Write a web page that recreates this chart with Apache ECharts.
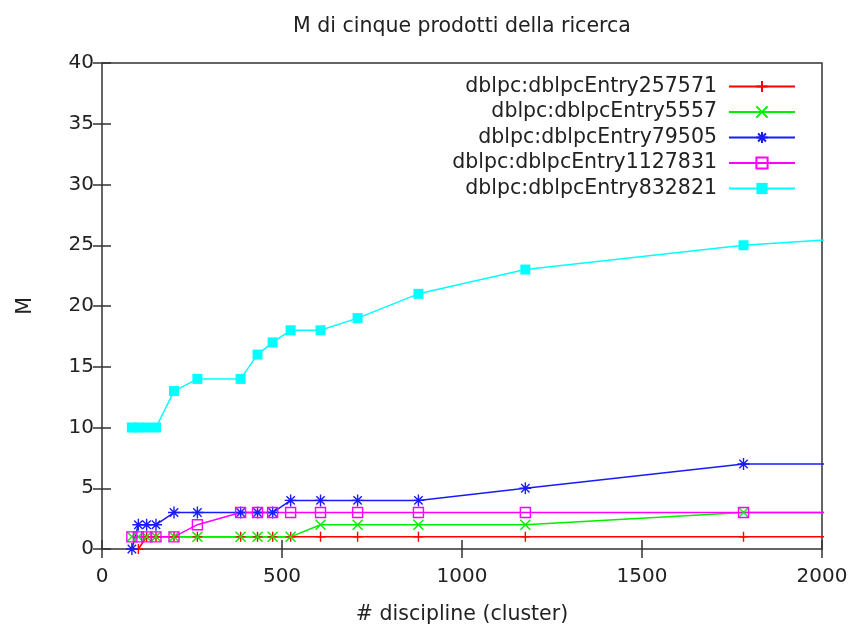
<!DOCTYPE html>
<html lang="it">
<head>
  <meta charset="UTF-8">
  <title>M di cinque prodotti della ricerca</title>
  <script src="https://cdn.jsdelivr.net/npm/echarts@6/dist/echarts.min.js"></script>
  <style>
    html, body { margin: 0; padding: 0; background: #fff; }
  </style>
</head>
<body>
  <div id="main" style="width: 853px; height: 624px;"></div>
  <script>
    // numero di cluster (asse x); l'ultimo punto sta oltre il bordo del grafico
    var clusters = [83, 101, 124, 150, 200, 265, 385, 432, 474, 524, 607, 710, 879, 1176, 1782, 2300];

    var entry257571  = [null, 0, 1, 1, 1, 1, 1, 1, 1, 1, 1, 1, 1, 1, 1, 1];
    var entry5557    = [1, 1, 1, 1, 1, 1, 1, 1, 1, 1, 2, 2, 2, 2, 3, 3];
    var entry79505   = [0, 2, 2, 2, 3, 3, 3, 3, 3, 4, 4, 4, 4, 5, 7, 7];
    var entry1127831 = [1, 1, 1, 1, 1, 2, 3, 3, 3, 3, 3, 3, 3, 3, 3, 3];
    var entry832821  = [10, 10, 10, 10, 13, 14, 14, 16, 17, 18, 18, 19, 21, 23, 25, 26];

    var xTicks = [0, 500, 1000, 1500, 2000];
    var yTicks = [0, 5, 10, 15, 20, 25, 30, 35, 40];

    var myChart = echarts.init(document.getElementById('main'));

    function pairs(vals) {
      return clusters.map(function (x, i) {
        return vals[i] == null ? null : [x, vals[i]];
      }).filter(function (p) { return p; });
    }

    var FONT = 'DejaVu Sans';
    var TXT = '#222';

    // simboli in stile gnuplot
    var SYM_PLUS = 'path://M0,5L10,5M5,0L5,10';
    var SYM_CROSS = 'path://M0,0L10,10M0,10L10,0';
    var SYM_STAR = 'path://M0,5L10,5M5,0L5,10M1.5,1.5L8.5,8.5M1.5,8.5L8.5,1.5';
    var SYM_BOX = 'path://M0,0L10,0L10,10L0,10Z';

    function serie(name, vals, color, symbol, size, filled) {
      return {
        name: name,
        type: 'line',
        data: pairs(vals),
        symbol: symbol,
        symbolSize: size,
        showAllSymbol: true,
        clip: true,
        animation: false,
        lineStyle: { color: color, width: 1.5 },
        itemStyle: {
          color: filled ? color : 'rgba(0,0,0,0)',
          borderColor: color,
          borderWidth: filled ? 0 : 1.4
        },
        emphasis: { disabled: true }
      };
    }

    var option = {
      backgroundColor: '#fff',
      animation: false,
      title: {
        text: 'M di cinque prodotti della ricerca',
        left: 288,
        top: 11,
        textStyle: { fontFamily: FONT, fontSize: 20.5, fontWeight: 'normal', color: TXT }
      },
      legend: {
        orient: 'vertical',
        right: 52,
        top: 71,
        align: 'right',
        itemWidth: 66,
        itemHeight: 14,
        itemGap: 4.5,
        textStyle: { fontFamily: FONT, fontSize: 20.5, color: TXT, padding: [0, 7, 0, 0] },
        data: ['dblpc:dblpcEntry257571', 'dblpc:dblpcEntry5557', 'dblpc:dblpcEntry79505',
               'dblpc:dblpcEntry1127831', 'dblpc:dblpcEntry832821']
      },
      grid: {
        left: 102, right: 31, top: 63, bottom: 75,
        outerBoundsMode: 'none', containLabel: false,
        show: true, borderColor: '#333', borderWidth: 1.5, backgroundColor: 'transparent'
      },
      xAxis: [{
        type: 'value', min: 0, max: 2000, interval: 500,
        name: '# discipline (cluster)', nameLocation: 'middle', nameGap: 55,
        nameTextStyle: { fontFamily: FONT, fontSize: 20.5, color: TXT },
        axisLine: { show: false },
        axisTick: { inside: true, length: 9, lineStyle: { color: '#333', width: 1.5 } },
        axisLabel: { fontFamily: FONT, fontSize: 20, color: TXT, margin: 18,
          formatter: function (v) { return xTicks.indexOf(v) >= 0 ? String(v) : ''; } },
        splitLine: { show: false }
      }, {
        type: 'value', min: 0, max: 2000, interval: 500, position: 'top',
        axisLine: { show: false },
        axisTick: { inside: true, length: 9, lineStyle: { color: '#333', width: 1.5 } },
        axisLabel: { show: false },
        splitLine: { show: false }
      }],
      yAxis: [{
        type: 'value', min: 0, max: 40, interval: 5,
        name: 'M', nameLocation: 'middle', nameGap: 66, nameRotate: 90,
        nameTextStyle: { fontFamily: FONT, fontSize: 20.5, color: TXT },
        axisLine: { show: false },
        axisTick: { inside: true, length: 9, lineStyle: { color: '#333', width: 1.5 } },
        axisLabel: { fontFamily: FONT, fontSize: 20, color: TXT, margin: 8,
          formatter: function (v) { return yTicks.indexOf(v) >= 0 ? String(v) : ''; } },
        splitLine: { show: false }
      }, {
        type: 'value', min: 0, max: 40, interval: 5, position: 'right',
        axisLine: { show: false },
        axisTick: { inside: true, length: 9, lineStyle: { color: '#333', width: 1.5 } },
        axisLabel: { show: false },
        splitLine: { show: false }
      }],
      series: [
        serie('dblpc:dblpcEntry257571', entry257571, '#ff0000', SYM_PLUS, 10, false),
        serie('dblpc:dblpcEntry5557', entry5557, '#00ee00', SYM_CROSS, 10, false),
        serie('dblpc:dblpcEntry79505', entry79505, '#1a1aff', SYM_STAR, 12, false),
        serie('dblpc:dblpcEntry1127831', entry1127831, '#ff00ff', SYM_BOX, 10, false),
        serie('dblpc:dblpcEntry832821', entry832821, '#00ffff', 'rect', 10, true)
      ]
    };

    myChart.setOption(option);
  </script>
</body>
</html>
